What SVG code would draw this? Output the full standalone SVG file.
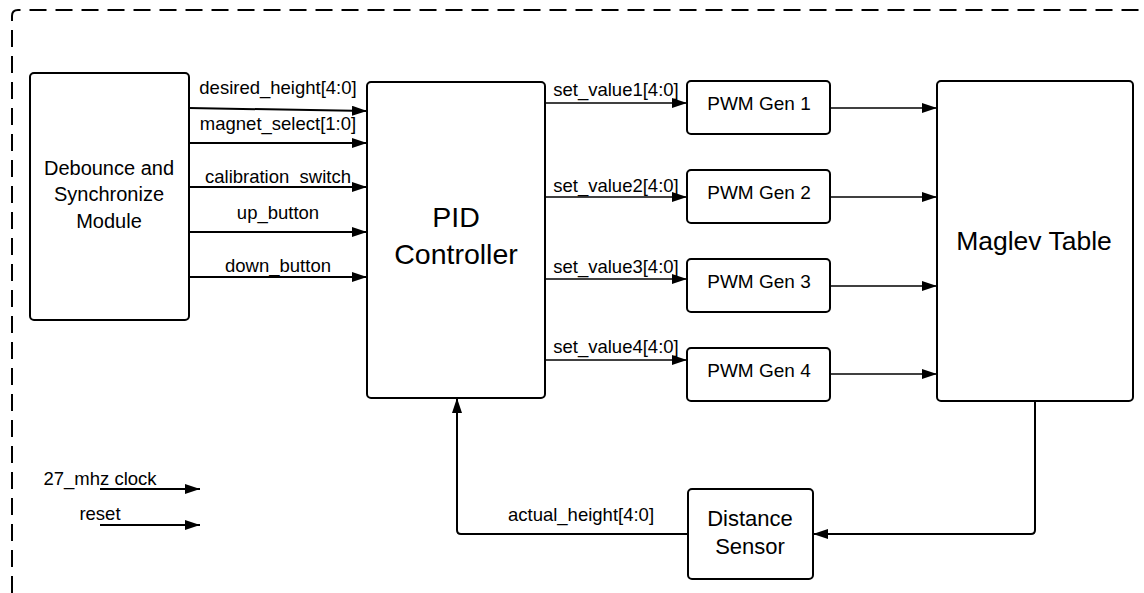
<svg xmlns="http://www.w3.org/2000/svg" width="1144" height="593" viewBox="0 0 1144 593">
<style>
.box{fill:#fff;stroke:#000;stroke-width:2}
.t{font-family:"Liberation Sans",Arial,sans-serif;fill:#000;text-anchor:middle}
.lbl{font-family:"Liberation Sans",Arial,sans-serif;fill:#000;font-size:18.5px;text-anchor:middle}
.w{fill:none;stroke:#000;stroke-width:2}
.n{fill:none;stroke:#000;stroke-width:1.5}
</style>
<defs>
<marker id="ah" markerUnits="userSpaceOnUse" markerWidth="15" markerHeight="10" refX="15" refY="5" orient="auto">
<path d="M0,0 L15,5 L0,10 z" fill="#000"/>
</marker>
</defs>
<rect width="1144" height="593" fill="#fff"/>
<path d="M12 593 V16 Q12 10 18 10 H1144" fill="none" stroke="#000" stroke-width="2" stroke-dasharray="17 9"/>

<g id="debounce">
<rect class="box" x="30" y="73" width="159" height="247" rx="4"/>
<text class="t" font-size="20" x="109" y="175">Debounce and</text>
<text class="t" font-size="20" x="109" y="201">Synchronize</text>
<text class="t" font-size="20" x="109" y="228">Module</text>
</g>
<g id="pid">
<rect class="box" x="367" y="82" width="178" height="316" rx="4"/>
<text class="t" font-size="28.5" x="456" y="227">PID</text>
<text class="t" font-size="28.5" x="456" y="264">Controller</text>
</g>
<g id="pwm1">
<rect class="box" x="687" y="81" width="143" height="53" rx="4"/>
<text class="t" font-size="19" x="759" y="110">PWM Gen 1</text>
</g>
<g id="pwm2">
<rect class="box" x="687" y="170" width="143" height="53" rx="4"/>
<text class="t" font-size="19" x="759" y="199">PWM Gen 2</text>
</g>
<g id="pwm3">
<rect class="box" x="687" y="259" width="143" height="53" rx="4"/>
<text class="t" font-size="19" x="759" y="288">PWM Gen 3</text>
</g>
<g id="pwm4">
<rect class="box" x="687" y="348" width="143" height="53" rx="4"/>
<text class="t" font-size="19" x="759" y="377">PWM Gen 4</text>
</g>
<g id="maglev">
<rect class="box" x="937" y="81" width="196" height="320" rx="4"/>
<text class="t" font-size="26.5" x="1034" y="250">Maglev Table</text>
</g>
<g id="sensor">
<rect class="box" x="688" y="489" width="125" height="90" rx="4"/>
<text class="t" font-size="22" x="750" y="526">Distance</text>
<text class="t" font-size="22" x="750" y="554">Sensor</text>
</g>

<g id="connectors">
<path class="w" d="M189 108 L367 111" marker-end="url(#ah)"/>
<path class="w" d="M189 143 H367" marker-end="url(#ah)"/>
<path class="w" d="M189 187 H367" marker-end="url(#ah)"/>
<path class="w" d="M189 232 H367" marker-end="url(#ah)"/>
<path class="w" d="M189 277 H367" marker-end="url(#ah)"/>
<path class="n" d="M545 103 H687" marker-end="url(#ah)"/>
<path class="n" d="M545 197 H687" marker-end="url(#ah)"/>
<path class="n" d="M545 279 H687" marker-end="url(#ah)"/>
<path class="n" d="M545 360 H687" marker-end="url(#ah)"/>
<path class="n" d="M830 108 H937" marker-end="url(#ah)"/>
<path class="n" d="M830 197 H937" marker-end="url(#ah)"/>
<path class="n" d="M830 286 H937" marker-end="url(#ah)"/>
<path class="n" d="M830 374 H937" marker-end="url(#ah)"/>
<path class="w" d="M1035 401 V530 Q1035 534 1031 534 H813" marker-end="url(#ah)"/>
<path class="w" d="M688 534 H461 Q457 534 457 530 V398" marker-end="url(#ah)"/>
<path class="w" d="M100 489 H200" marker-end="url(#ah)"/>
<path class="w" d="M100 525 H200" marker-end="url(#ah)"/>
<text class="lbl" x="278" y="94">desired_height[4:0]</text>
<text class="lbl" x="278" y="130">magnet_select[1:0]</text>
<text class="lbl" x="278" y="183">calibration_switch</text>
<text class="lbl" x="278" y="219">up_button</text>
<text class="lbl" x="278" y="272">down_button</text>
<text class="lbl" x="616" y="96">set_value1[4:0]</text>
<text class="lbl" x="616" y="192">set_value2[4:0]</text>
<text class="lbl" x="616" y="273">set_value3[4:0]</text>
<text class="lbl" x="616" y="353">set_value4[4:0]</text>
<text class="lbl" x="581" y="521">actual_height[4:0]</text>
<text class="lbl" x="100" y="485">27_mhz clock</text>
<text class="lbl" x="100" y="520">reset</text>
</g>
</svg>
